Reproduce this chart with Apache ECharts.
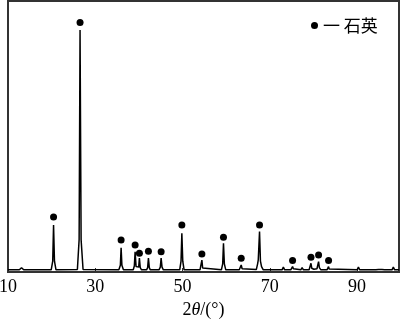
<!DOCTYPE html>
<html>
<head>
<meta charset="utf-8">
<script src="https://cdn.jsdelivr.net/npm/echarts@6/dist/echarts.min.js"></script>
<style>html,body{margin:0;padding:0;background:#fff;}#c{width:400px;height:319px;}</style>
</head>
<body>
<div id="c"></div>
<script>
// XRD pattern: [2theta, intensity]
const pattern = [
[10,0.8],[12.6,0.8],[13.1,1.6],[13.6,0.8],
[19.9,0.8],[20.25,4],[20.44,17.3],[20.65,4],[21.0,0.8],
[25.9,0.9],[26.3,12],[26.51,89.3],[26.75,12],[27.2,0.9],
[35.4,0.8],[35.75,2.5],[35.92,8.9],[36.1,2.5],[36.45,0.8],
[38.7,0.8],[38.95,2.2],[39.13,7.5],[39.35,2],[39.6,1.5],[39.95,1.8],[40.11,5.1],[40.3,1.6],[40.6,0.8],
[41.75,0.8],[42.0,1.6],[42.18,5.1],[42.38,1.6],[42.6,0.8],
[44.6,0.8],[44.9,1.8],[45.09,5.1],[45.3,1.8],[45.6,0.8],
[49.35,0.8],[49.65,4],[49.84,14.3],[50.05,4],[50.35,0.8],
[54.0,0.8],[54.25,1.5],[54.43,4.4],[54.6,1.5],[54.85,0.8],
[58.9,0.8],[59.2,3],[59.38,10.6],[59.58,3],[59.9,0.8],
[63.0,0.8],[63.25,1.2],[63.44,2.6],[63.65,1.2],[63.9,0.8],
[66.9,0.9],[67.2,3],[67.35,4.5],[67.5,5],[67.64,14.9],[67.85,4],[68.1,2],[68.5,0.8],
[72.8,0.8],[73.1,1.8],[73.4,0.8],
[74.8,0.8],[75.0,1.2],[75.21,2.0],[75.4,1.2],[75.6,0.8],
[77.1,0.8],[77.4,1.6],[77.7,0.8],
[79.0,0.8],[79.25,1.5],[79.43,3.2],[79.6,1.4],[80.1,1.0],[80.8,1.2],[81.0,1.8],[81.17,3.8],[81.35,1.6],[81.7,0.8],
[83.1,0.8],[83.3,1.1],[83.46,2.0],[83.6,1.1],[83.8,0.8],
[90.0,0.8],[90.3,1.8],[90.6,0.8],
[92.3,0.8],[92.6,1.3],[92.9,0.8],
[94.3,0.8],[94.6,1.4],[94.9,0.9],[95.7,0.9],[96.0,1.3],[96.3,0.8],
[98.0,0.8],[98.3,1.8],[98.6,0.8],[99.6,0.8]
];
// quartz marker positions
const quartzX = [20.44,26.51,35.92,39.13,40.11,42.18,45.09,49.84,54.43,59.38,63.44,67.64,75.21,79.43,81.17,83.46];
const quartzY = [20.3,92.1,11.8,10.0,6.9,7.7,7.5,17.3,6.6,12.8,5.1,17.3,4.2,5.4,6.3,4.2];
const xTicks = [10,30,50,70,90];
const legendName = '一 石英';

const chart = echarts.init(document.getElementById('c'), null, {renderer:'canvas'});
chart.setOption({
  animation:false,
  backgroundColor:'#fff',
  grid:{left:8,right:1,top:1,bottom:47,outerBoundsMode:'none',containLabel:false,show:true,borderColor:'#333',borderWidth:2,backgroundColor:'transparent'},
  legend:{left:306,top:12,itemWidth:7,itemHeight:7,itemGap:5,icon:'circle',
    data:[legendName],
    itemStyle:{color:'#000',opacity:1},
    textStyle:{fontSize:17,color:'#000',fontFamily:'Noto Sans CJK SC'}},
  xAxis:{type:'value',min:10,max:99.6,interval:20,
    axisLine:{show:true,lineStyle:{color:'#333',width:2}},
    axisTick:{show:true,inside:true,length:4,lineStyle:{color:'#333',width:1}},
    splitLine:{show:false},
    axisLabel:{color:'#000',fontSize:18,fontFamily:'Liberation Serif',margin:6,showMaxLabel:false,
      formatter:v=>xTicks.indexOf(v)>=0?String(v):''},
    name:'{n|2}{i|θ}{n|/(°)}',nameLocation:'middle',nameGap:24,
    nameTextStyle:{rich:{n:{fontSize:18,fontFamily:'Liberation Serif',color:'#000'},i:{fontSize:18,fontFamily:'Liberation Serif',fontStyle:'italic',color:'#000'}}}
  },
  yAxis:{type:'value',min:0,max:100,show:true,axisLine:{show:false},axisTick:{show:false},axisLabel:{show:false},splitLine:{show:false}},
  series:[
    {type:'line',data:pattern,showSymbol:false,symbol:'none',lineStyle:{color:'#000',width:1.5},silent:true},
    {type:'scatter',name:legendName,data:quartzX.map((x,i)=>[x,quartzY[i]]),symbol:'circle',symbolSize:7,itemStyle:{color:'#000',opacity:1}}
  ]
});
</script>
</body>
</html>
